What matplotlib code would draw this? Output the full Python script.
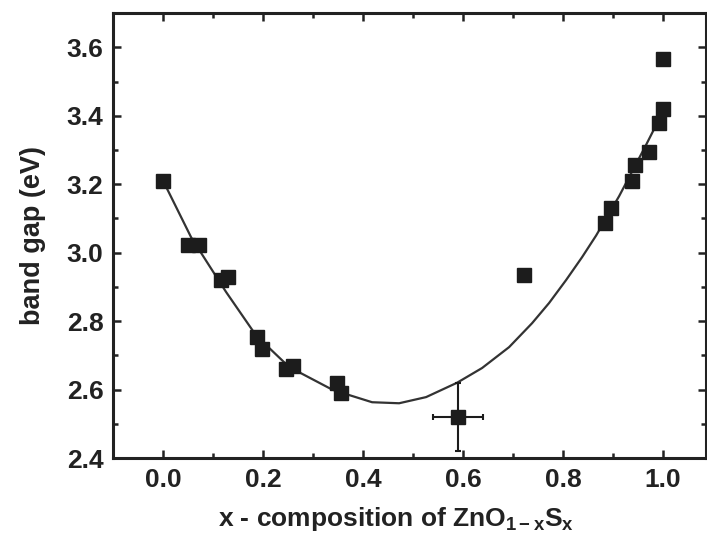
import matplotlib
matplotlib.use("Agg")
import matplotlib.pyplot as plt
from matplotlib.ticker import MultipleLocator

plt.rcParams['font.family'] = ['Liberation Sans', 'DejaVu Sans']
plt.rcParams['font.weight'] = 'bold'
plt.rcParams['mathtext.fontset'] = 'custom'
plt.rcParams['mathtext.rm'] = 'Liberation Sans:bold'
plt.rcParams['mathtext.bf'] = 'Liberation Sans:bold'
plt.rcParams['mathtext.it'] = 'Liberation Sans:bold'

# measured band gaps
x_data = [0.0, 0.05, 0.072, 0.116, 0.13, 0.188, 0.198, 0.245, 0.26, 0.348, 0.356,
          0.722, 0.884, 0.896, 0.938, 0.944, 0.972, 0.992, 1.0, 1.0]
gap_data = [3.21, 3.022, 3.022, 2.92, 2.93, 2.753, 2.72, 2.66, 2.67, 2.62, 2.59,
            2.934, 3.086, 3.13, 3.21, 3.255, 3.293, 3.38, 3.42, 3.565]

# point with error bars
x_err_pt = 0.59
gap_err_pt = 2.52
x_err = 0.05
gap_err = 0.1

# fitted bowing curve
x_fit = [0.0, 0.056, 0.126, 0.186, 0.252, 0.338, 0.372, 0.418, 0.472, 0.526, 0.588,
         0.638, 0.692, 0.738, 0.772, 0.806, 0.838, 0.866, 0.912, 0.966, 0.992, 1.0]
gap_fit = [3.21, 3.045, 2.885, 2.758, 2.666, 2.60, 2.584, 2.563, 2.56, 2.578, 2.62,
           2.663, 2.724, 2.794, 2.853, 2.92, 2.987, 3.05, 3.165, 3.315, 3.39, 3.415]

fig = plt.figure(figsize=(7.07, 5.36), dpi=100)
ax = fig.add_axes([0.160, 0.1455, 0.838, 0.830])

ax.plot(x_fit, gap_fit, color='#333333', lw=1.6, zorder=2)
ax.plot(x_data, gap_data, 's', color='#1c1c1c', markersize=10.5, zorder=3)
ax.errorbar(x_err_pt, gap_err_pt, xerr=x_err, yerr=gap_err, fmt='s', color='#1c1c1c',
            markersize=10.5, elinewidth=1.5, capsize=2.5, capthick=1.5, zorder=3)

ax.set_xlim(-0.1, 1.085)
ax.set_ylim(2.4, 3.7)
ax.xaxis.set_minor_locator(MultipleLocator(0.1))
ax.yaxis.set_minor_locator(MultipleLocator(0.1))
ax.set_xticks([0.0, 0.2, 0.4, 0.6, 0.8, 1.0])
ax.set_yticks([2.4, 2.6, 2.8, 3.0, 3.2, 3.4, 3.6])

ax.tick_params(which='both', direction='in', top=True, right=True, width=1.8,
               labelsize=19, colors='#222222')
ax.tick_params(which='major', length=6, pad=7)
ax.tick_params(which='minor', length=3.5)
for sp in ax.spines.values():
    sp.set_linewidth(2.2)
    sp.set_color('#222222')

ax.set_xlabel(r'x - composition of ZnO$_{1-x}$S$_{x}$', fontsize=19,
              fontweight='bold', color='#222222')
ax.xaxis.set_label_coords(0.478, -0.105)
ax.set_ylabel('band gap (eV)', fontsize=19.5, fontweight='bold', color='#222222',
              labelpad=15)

fig.savefig('out.png', dpi=100)
